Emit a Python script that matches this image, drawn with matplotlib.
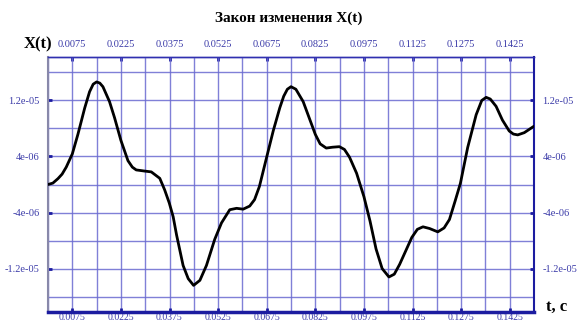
import numpy as np
import matplotlib
matplotlib.use('Agg')
import matplotlib.pyplot as plt

# time (s) and displacement (units of 1e-6)
t = [0.0, 0.0015, 0.00308, 0.00435, 0.00563, 0.0075, 0.00923, 0.01133, 0.01283, 0.01395,
     0.015, 0.01598, 0.01695, 0.01898, 0.02055, 0.0225, 0.02468, 0.02603, 0.02723, 0.02978,
     0.03188, 0.0345, 0.036, 0.03743, 0.03863, 0.03968, 0.0417, 0.04328, 0.04493, 0.04688,
     0.0489, 0.05145, 0.05355, 0.0561, 0.0582, 0.06023, 0.06225, 0.06375, 0.06525, 0.0675,
     0.06953, 0.07155, 0.07275, 0.07388, 0.075, 0.0765, 0.07875, 0.0825, 0.084, 0.08588,
     0.08775, 0.08993, 0.0915, 0.09308, 0.09525, 0.0975, 0.09938, 0.10125, 0.10313, 0.10523,
     0.10688, 0.10853, 0.11228, 0.114, 0.11573, 0.11775, 0.1203, 0.12225, 0.1239, 0.12563,
     0.12728, 0.12953, 0.13215, 0.13388, 0.13523, 0.1365, 0.1383, 0.14025, 0.14235, 0.14363,
     0.14498, 0.147, 0.15]
x_um = [0.0, 0.2, 0.84, 1.48, 2.48, 4.36, 7.16, 10.92, 13.24, 14.32,
        14.64, 14.48, 13.96, 11.84, 9.52, 6.3, 3.4, 2.48, 2.08, 1.92,
        1.8, 0.88, -0.76, -2.64, -4.6, -7.2, -11.56, -13.44, -14.4, -13.68,
        -11.56, -7.84, -5.48, -3.6, -3.4, -3.52, -3.08, -2.16, -0.28, 3.92,
        7.68, 10.96, 12.6, 13.6, 13.96, 13.6, 11.84, 7.16, 5.8, 5.2,
        5.32, 5.4, 5.0, 3.88, 1.6, -1.72, -5.2, -9.2, -12.0, -13.2,
        -12.8, -11.4, -7.56, -6.4, -6.04, -6.28, -6.76, -6.2, -5.0, -2.4,
        0.16, 5.28, 9.96, 12.0, 12.44, 12.2, 11.16, 9.2, 7.64, 7.2,
        7.08, 7.4, 8.32]

x_ticks = [0.0075, 0.0225, 0.0375, 0.0525, 0.0675, 0.0825, 0.0975, 0.1125, 0.1275, 0.1425]
x_labels = ['0.0075', '0.0225', '0.0375', '0.0525', '0.0675',
            '0.0825', '0.0975', '0.1125', '0.1275', '0.1425']
y_ticks = [1.2e-05, 4e-06, -4e-06, -1.2e-05]
y_labels = ['1.2e-05', '4e-06', '-4e-06', '-1.2e-05']
title = 'Закон изменения X(t)'

blue = '#3a3aa8'
tick_col = '#1c1ca0'
grid_col = '#6a6ad0'
serif = ['Liberation Serif', 'DejaVu Serif']

fig = plt.figure(figsize=(5.78, 3.25), dpi=100)
ax = fig.add_axes([48 / 578, 13 / 325, 486 / 578, 255 / 325])

x = np.array(x_um) * 1e-6
ax.plot(t, x, color='black', lw=2.0, zorder=3,
        solid_joinstyle='round', solid_capstyle='round')

ax.set_xlim(0, 0.15)
ax.set_ylim(-1.82e-05, 1.82e-05)

ax.set_xticks(np.arange(0, 0.15001, 0.0075), minor=True)
ax.set_yticks(np.arange(-1.6e-05, 1.6001e-05, 4e-06), minor=True)
ax.tick_params(which='minor', length=0)

ax.set_xticks(x_ticks)
ax.set_xticklabels(x_labels)
ax.set_yticks(y_ticks)
ax.set_yticklabels(y_labels)
ax.grid(which='both', color=grid_col, lw=1.0, alpha=0.85)
ax.tick_params(which='major', direction='in', length=3, width=2, color=tick_col,
               labelcolor=blue, right=True, labelright=True)
ax.tick_params(axis='y', which='major', labelsize=7.5, pad=6)
ax.tick_params(axis='x', which='major', labelsize=7, pad=1)

# top labels sit further from the frame than the bottom ones
top = ax.secondary_xaxis('top')
top.set_xticks(x_ticks)
top.set_xticklabels(x_labels)
top.tick_params(direction='in', length=3, width=2, color=tick_col,
                labelsize=7.5, labelcolor=blue, pad=6)
top.spines['top'].set_color('#3030b0')
top.spines['top'].set_linewidth(1.0)

for lab in ax.get_xticklabels() + ax.get_yticklabels() + top.get_xticklabels():
    lab.set_fontfamily(serif)

ax.spines['left'].set_color('#8888aa')
ax.spines['left'].set_linewidth(1.5)
ax.spines['top'].set_color('#3030b0')
ax.spines['top'].set_linewidth(1.0)
ax.spines['right'].set_color(tick_col)
ax.spines['right'].set_linewidth(1.5)
ax.spines['bottom'].set_color(tick_col)
ax.spines['bottom'].set_linewidth(2.5)

fig.text(0.5, 0.945, title, ha='center', va='center', fontsize=11,
         fontweight='bold', family=serif)
fig.text(24 / 578, 1 - 44 / 325, 'X(t)', ha='left', va='center', fontsize=12,
         fontweight='bold', family=serif)
fig.text(546 / 578, 1 - 307 / 325, 't, c', ha='left', va='center', fontsize=12,
         fontweight='bold', family=serif)

fig.savefig('out.png', dpi=100)
